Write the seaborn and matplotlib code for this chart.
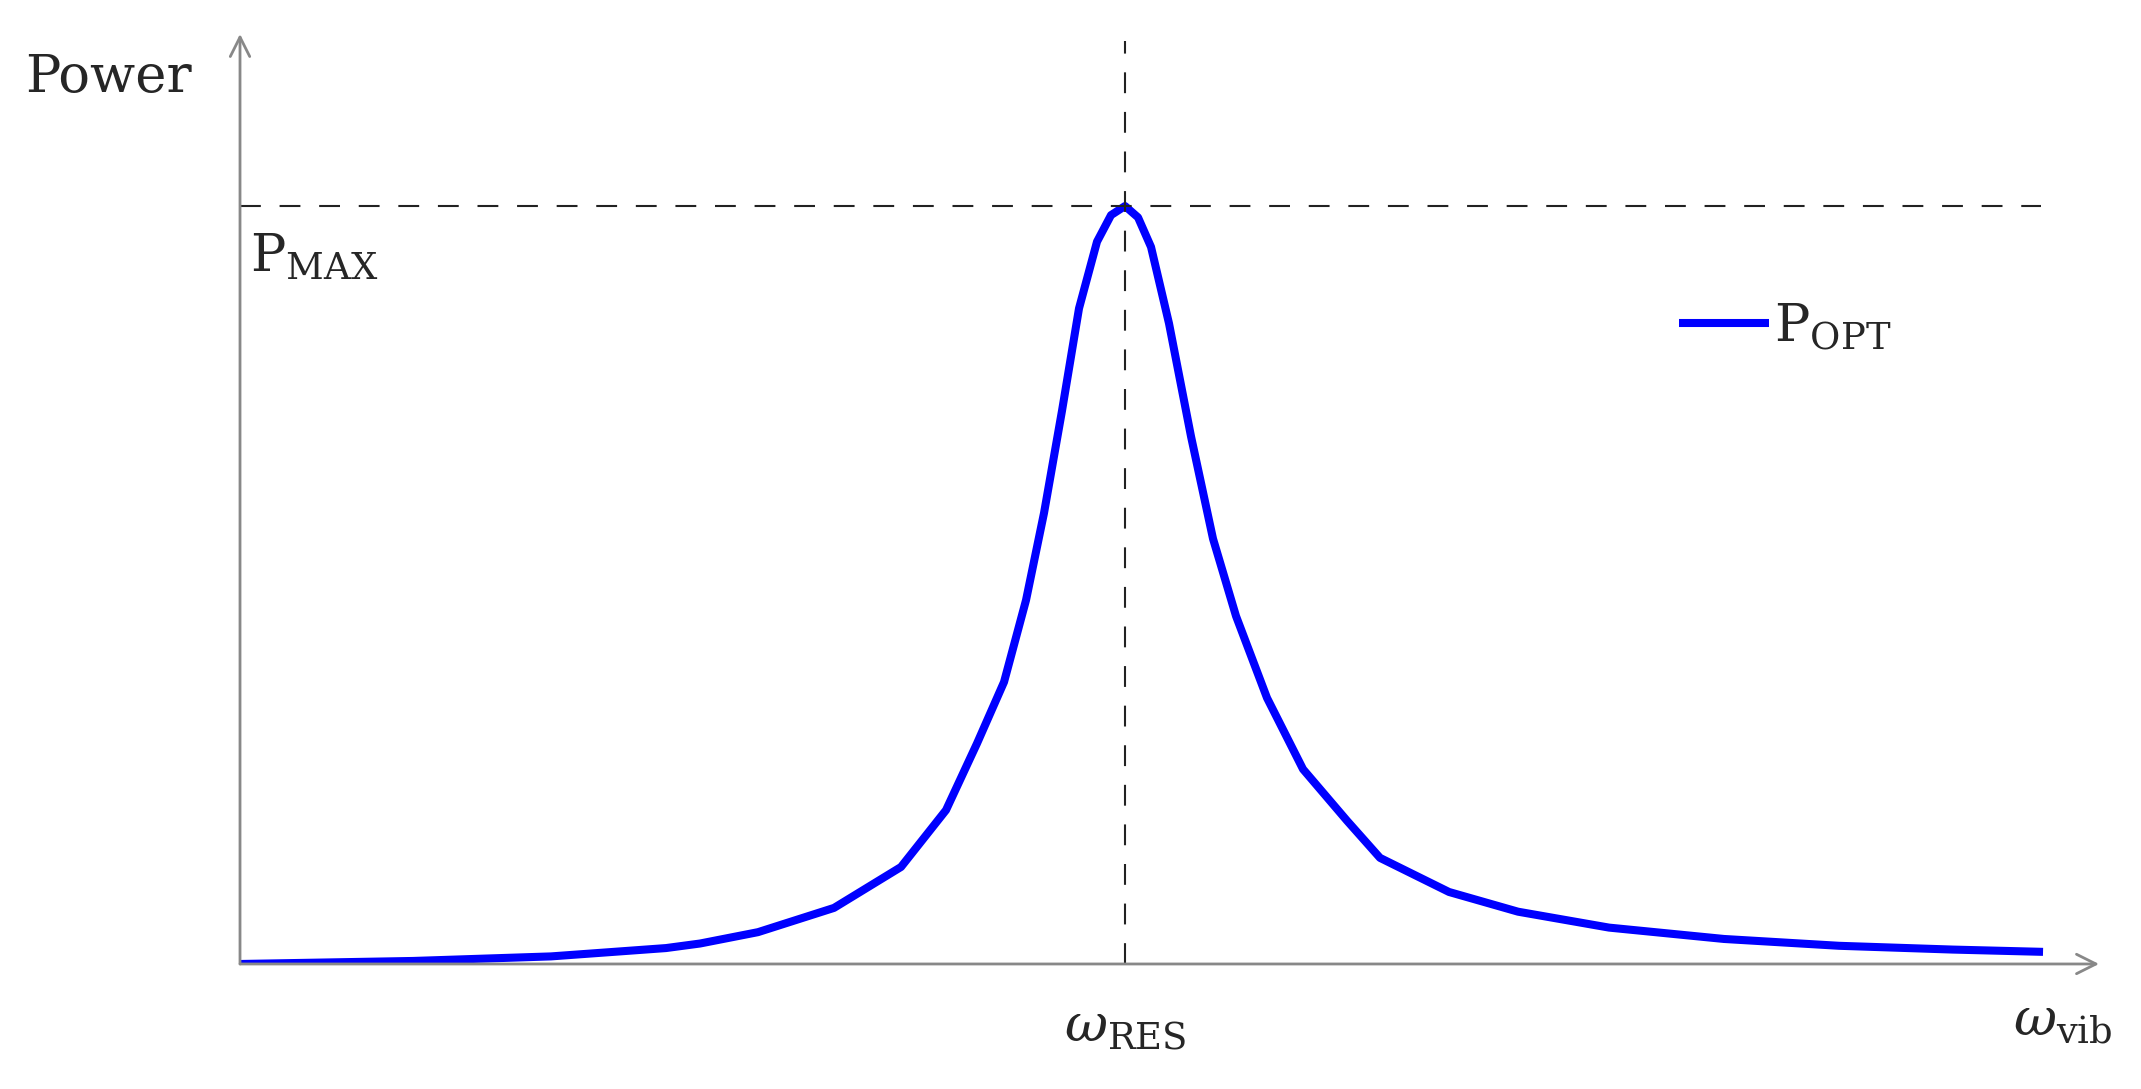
import matplotlib.pyplot as plt
import seaborn as sns
import pandas as pd

# curve (omega in arbitrary units, power normalised to P_MAX)
omega = [0, 173, 311, 426, 460, 518, 594, 661, 706, 737, 764, 786, 804, 822,
         839, 857, 871, 885, 898, 911, 929, 951, 973, 996, 1027, 1063, 1107,
         1140, 1209, 1278, 1369, 1484, 1599, 1713, 1803]
power = [0.0, 0.004, 0.010, 0.021, 0.027, 0.042, 0.074, 0.128, 0.203, 0.291,
         0.372, 0.480, 0.595, 0.730, 0.865, 0.953, 0.988, 1.0, 0.985, 0.946,
         0.845, 0.696, 0.561, 0.459, 0.351, 0.257, 0.189, 0.14, 0.095, 0.069,
         0.048, 0.033, 0.024, 0.019, 0.016]
omega_res = 885
p_max = 1.0

df = pd.DataFrame({'omega': omega, 'power': power})

sns.set_theme(style="white")
plt.rcParams['font.family'] = ['DejaVu Serif']
plt.rcParams['mathtext.fontset'] = 'dejavuserif'

fig = plt.figure(figsize=(21.41, 10.89), dpi=100)
ax = fig.add_axes([0.1121, 0.1148, 0.8683, 0.854])
ax.set_xlim(0, 1859)
ax.set_ylim(0, 1.227)

sns.lineplot(data=df, x='omega', y='power', color='#0000ff', linewidth=5.8,
             ax=ax, label=r'$\mathrm{P}_{\mathrm{OPT}}$',
             solid_joinstyle='round', solid_capstyle='butt')

dash = (0, (10, 9))
ax.plot([0, 1801], [p_max, p_max], ls=dash, color='#222222', lw=1.5)
ax.plot([omega_res, omega_res], [0, 1.218], ls=dash, color='#222222', lw=1.5)

for s in ax.spines.values():
    s.set_visible(False)
ax.set_xticks([])
ax.set_yticks([])
ax.set_xlabel('')
ax.set_ylabel('')

arrow = dict(arrowstyle='->', color='#888888', lw=2, mutation_scale=35, shrinkA=0, shrinkB=0)
ax.annotate('', xy=(1859, 0), xytext=(0, 0), arrowprops=arrow, annotation_clip=False)
ax.annotate('', xy=(0, 1.227), xytext=(0, 0), arrowprops=arrow, annotation_clip=False)

fs = 38
ax.text(-215, 1.169, 'Power', fontsize=fs, ha='left', va='center')
ax.text(10, 0.913, r'$\mathrm{P}_{\mathrm{MAX}}$', fontsize=fs, ha='left', va='baseline')
ax.text(omega_res, -0.102, r'$\omega_{\mathrm{RES}}$', fontsize=fs, ha='center', va='baseline')
ax.text(1773, -0.094, r'$\omega_{\mathrm{vib}}$', fontsize=fs, ha='left', va='baseline')

ax.legend(loc='center left', bbox_to_anchor=(0.774, 0.685), frameon=False,
          fontsize=fs, handlelength=1.7, handletextpad=0.1,
          borderpad=0, borderaxespad=0)

fig.savefig('out.png', dpi=100)
